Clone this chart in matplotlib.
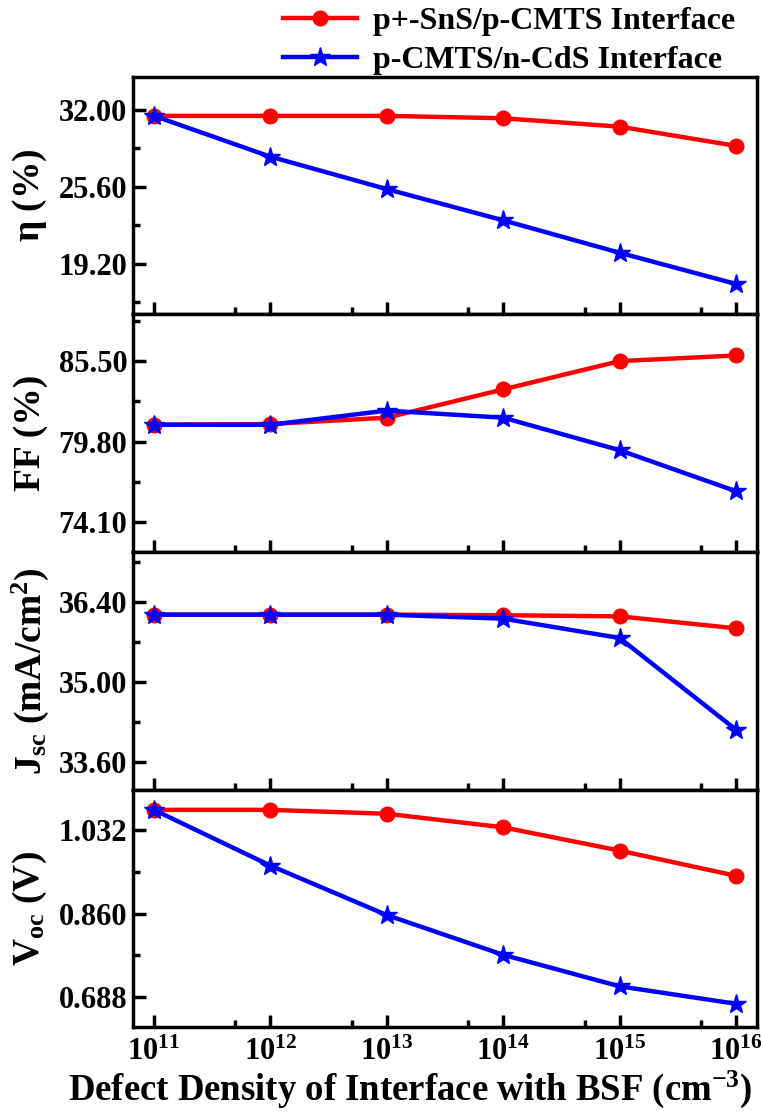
import numpy as np
import matplotlib.pyplot as plt
from matplotlib.ticker import MultipleLocator, FixedLocator

plt.rcParams['font.family'] = ['Liberation Serif', 'DejaVu Serif']
plt.rcParams['font.weight'] = 'bold'
plt.rcParams['mathtext.fontset'] = 'custom'
plt.rcParams['mathtext.rm'] = 'Liberation Serif:bold'
plt.rcParams['mathtext.it'] = 'Liberation Serif:bold'
plt.rcParams['mathtext.bf'] = 'Liberation Serif:bold'
plt.rcParams['mathtext.default'] = 'rm'

# defect density (cm^-3)
density = [1e11, 1e12, 1e13, 1e14, 1e15, 1e16]
xtick_labels = [r'$10^{11}$', r'$10^{12}$', r'$10^{13}$', r'$10^{14}$', r'$10^{15}$', r'$10^{16}$']

# p+-SnS/p-CMTS interface
eta_bsf = [31.5, 31.5, 31.5, 31.3, 30.6, 29.0]
ff_bsf = [81.0, 81.05, 81.5, 83.5, 85.5, 85.9]
jsc_bsf = [36.18, 36.18, 36.18, 36.17, 36.15, 35.94]
voc_bsf = [1.074, 1.074, 1.066, 1.038, 0.990, 0.938]

# p-CMTS/n-CdS interface
eta_cds = [31.5, 28.1, 25.4, 22.8, 20.1, 17.5]
ff_cds = [81.0, 81.0, 82.0, 81.5, 79.2, 76.3]
jsc_cds = [36.18, 36.18, 36.18, 36.11, 35.77, 34.16]
voc_cds = [1.074, 0.959, 0.857, 0.775, 0.710, 0.674]

labels = ['p+-SnS/p-CMTS Interface', 'p-CMTS/n-CdS Interface']
ylabels = [r'$\eta$ (%)', 'FF (%)', r'J$_{sc}$ (mA/cm$^{2}$)', r'V$_{oc}$ (V)']
yticks = [[19.2, 25.6, 32.0], [74.1, 79.8, 85.5], [33.6, 35.0, 36.4], [0.688, 0.860, 1.032]]
ytick_fmt = ['%.2f', '%.2f', '%.2f', '%.3f']
ylims = [(14.96, 34.74), (72.0, 88.8), (33.11, 37.28), (0.626, 1.116)]

fig, axes = plt.subplots(4, 1, figsize=(7.61, 11.12), dpi=100, sharex=True)
fig.subplots_adjust(left=0.1748, right=0.9947, top=0.9308, bottom=0.0764, hspace=0)

data = [(eta_bsf, eta_cds), (ff_bsf, ff_cds), (jsc_bsf, jsc_cds), (voc_bsf, voc_cds)]

for i, ax in enumerate(axes):
    red, blue = data[i]
    l1, = ax.plot(density, red, color='#ff0000', lw=3.2, marker='o', ms=10.5)
    l2, = ax.plot(density, blue, color='#0000ff', lw=3.2, marker='*', ms=15)
    ax.set_xscale('log')
    ax.set_xlim(10**10.82, 10**16.18)
    ax.set_ylim(*ylims[i])
    ax.set_yticks(yticks[i])
    ax.set_yticklabels([ytick_fmt[i] % v for v in yticks[i]])
    step = yticks[i][1] - yticks[i][0]
    ax.yaxis.set_minor_locator(MultipleLocator(step / 2))
    ax.set_xticks(density)
    ax.xaxis.set_minor_locator(FixedLocator([5e10, 5e11, 5e12, 5e13, 5e14, 5e15]))
    ax.tick_params(which='both', direction='in', top=False, right=False, labelsize=22, width=2.5, pad=4)
    ax.tick_params(which='major', length=9)
    ax.tick_params(which='minor', length=5, labelbottom=False)
    for s in ax.spines.values():
        s.set_linewidth(2.5)
    ax.set_ylabel(ylabels[i], fontsize=27, fontweight='bold')
    ax.yaxis.set_label_coords(-0.165, 0.5)
    ax.yaxis.label.set_va('center')

axes[-1].set_xticklabels(xtick_labels)
axes[-1].tick_params(axis='x', labelsize=22, pad=8)
axes[-1].set_xlabel(r'Defect Density of Interface with BSF (cm$^{-3}$)', fontsize=26.5, fontweight='bold')
axes[-1].xaxis.set_label_coords(0.444, -0.175)

fig.legend([l1, l2], labels, loc='upper left', bbox_to_anchor=(0.372, 0.994), frameon=False,
           fontsize=23, handlelength=2.3, handletextpad=0.5, labelspacing=0.3, borderaxespad=0, borderpad=0)

plt.savefig('out.png', dpi=100)
